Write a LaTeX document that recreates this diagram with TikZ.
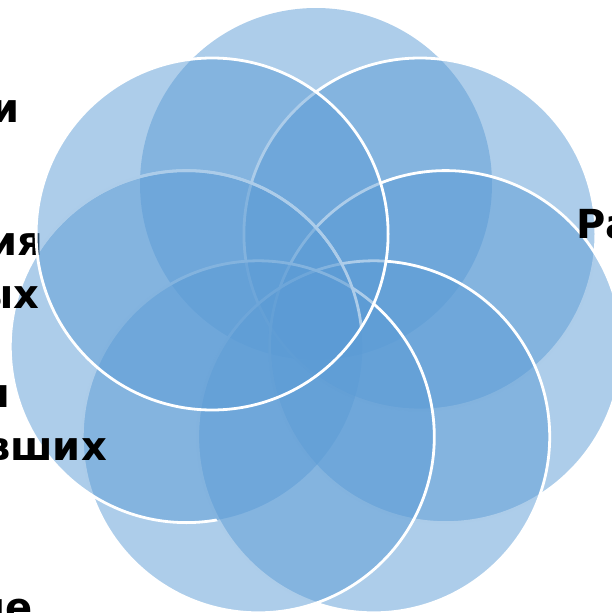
\documentclass[tikz,border=0pt]{standalone}
\usepackage{fontspec}
\setmainfont{DejaVu Sans}
\definecolor{cblue}{HTML}{5B9BD5}
\begin{document}
\begin{tikzpicture}[x=1pt,y=-1pt,
  petal/.style={fill=cblue,fill opacity=0.5,draw=white,line width=2.8pt},
  petalnb/.style={fill=cblue,fill opacity=0.5},
  rim/.style={draw=white,line width=2.8pt},
  lbl/.style={font=\bfseries\fontsize{40}{48}\selectfont,inner sep=0pt,text=black}]
\useasboundingbox (0,0) rectangle (612,613);
\begin{scope}
\clip (0,0) rectangle (612,613);
\coordinate (o) at (316,317);
\coordinate (cT) at (316,184);
\coordinate (cTR) at (419.9,234.0);
\coordinate (cR) at (445.7,346.6);
\coordinate (cBR) at (373.7,436.8);
\coordinate (cBL) at (258.3,436.8);
\coordinate (cL) at (186.3,346.6);
\coordinate (cTL) at (212.1,234.0);
% circles in drawing order
\path[petalnb] (cT) circle[radius=176];
\path[petal] (cTR) circle[radius=176];
\path[petal] (cR) circle[radius=176];
\path[petal] (cBR) circle[radius=176];
\path[petal] (cBL) circle[radius=176];
\path[petalnb] (cL) circle[radius=176];
\begin{scope}[even odd rule]
\clip (-20,-20) rectangle (640,640) (cBR) circle[radius=177.4];
\path[rim] (cL) circle[radius=176];
\end{scope}
\begin{scope}
\clip (cTL) circle[radius=176];
\path[rim] (cL) circle[radius=176];
\end{scope}
% labels
\node[lbl,anchor=base east] (t1) at (20,122) {и};
\node[lbl,anchor=base east] (t2) at (43,255) {ия};
\node[lbl,anchor=base east] (t3) at (40,308) {ых};
\node[lbl,anchor=base east] (t4) at (10,407) {я};
\node[lbl,anchor=base east] (t5) at (107,460) {вших};
\node[lbl,anchor=base east] (t6) at (33,621) {ие};
\node[lbl,anchor=base west] (t7) at (576,238) {Ра};
\path[petal] (cTL) circle[radius=176];
\end{scope}
\end{tikzpicture}
\end{document}
